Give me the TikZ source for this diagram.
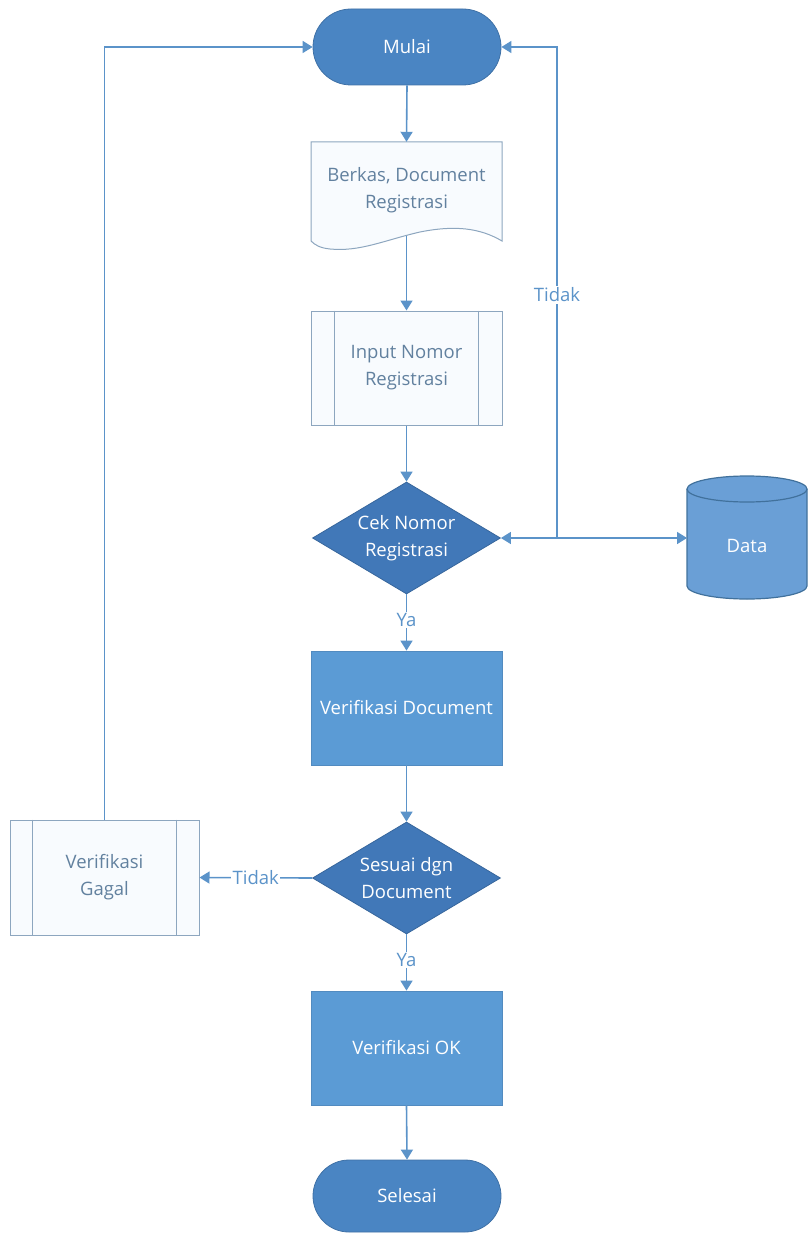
\documentclass[tikz,border=0pt]{standalone}
\usepackage{fontspec}
\setmainfont{Open Sans}
\usetikzlibrary{shapes.geometric,arrows.meta}
\definecolor{term}{HTML}{4A85C3}
\definecolor{dia}{HTML}{4178B8}
\definecolor{proc}{HTML}{5B9BD5}
\definecolor{cyl}{HTML}{6A9FD6}
\definecolor{cylline}{HTML}{41719C}
\definecolor{edge}{HTML}{5B93C9}
\definecolor{pale}{HTML}{8DA6BF}
\definecolor{paletext}{HTML}{62819F}
\definecolor{palefill}{HTML}{F8FBFE}
\begin{document}
\begin{tikzpicture}[x=1pt,y=-1pt,
  font=\fontsize{18.5}{27}\selectfont,
  termbox/.style={rectangle, rounded corners=38pt, fill=term, draw=term!85!black, line width=0.8pt,
    minimum width=188pt, minimum height=76pt, text=white, inner sep=0pt},
  diabox/.style={diamond, fill=dia, draw=dia!85!black, line width=0.8pt, minimum width=188pt,
    minimum height=112pt, inner sep=0pt, text=white, align=center, aspect=1.68},
  procbox/.style={rectangle, fill=proc, draw=proc!90!black, line width=0.8pt, minimum width=191pt,
    minimum height=114pt, text=white, align=center},
  subbox/.style={rectangle, fill=palefill, draw=pale, line width=1pt, minimum width=191pt,
    minimum height=114pt, text=paletext, align=center},
  conn/.style={draw=edge, line width=1.6pt, -{Triangle[width=12pt,length=10pt]}},
  lbl/.style={fill=white, text=edge, inner sep=1.5pt}
]
\useasboundingbox (0,0) rectangle (808,1233);

% Nodes
\node[termbox] (mulai) at (407,47) {Mulai};

% Document shape
\draw[draw=pale, fill=palefill, line width=1pt]
  (311,142) -- (502,142) -- (502,241)
  .. controls (480,228) and (455,225) .. (420,232)
  .. controls (385,240) and (360,252) .. (330,249)
  .. controls (320,248) and (315,245) .. (311,241) -- cycle;
\node[rectangle, minimum width=191pt, minimum height=96pt, text=paletext, align=center] (doc) at (406.5,190)
  {Berkas, Document\\Registrasi};

\node[subbox] (input) at (406.5,368) {Input Nomor\\Registrasi};
\draw[draw=pale, line width=1pt] ([xshift=24pt]input.north west) -- ([xshift=24pt]input.south west);
\draw[draw=pale, line width=1pt] ([xshift=-24pt]input.north east) -- ([xshift=-24pt]input.south east);

\node[diabox] (cek) at (406.5,538) {Cek Nomor\\Registrasi};

% Data cylinder
\draw[fill=cyl, draw=cylline, line width=1.2pt]
  (687,489) -- (687,586) arc[start angle=180, end angle=360, x radius=60pt, y radius=13pt]
  -- (807,489) arc[start angle=0, end angle=180, x radius=60pt, y radius=13pt] -- cycle;
\draw[draw=cylline, line width=1.2pt] (687,489) arc[start angle=180, end angle=360, x radius=60pt, y radius=13pt];
\node[rectangle, minimum width=120pt, minimum height=110pt, text=white, inner sep=0pt] (data) at (747,546) {Data};
\coordinate (dataw) at (687,538);

\node[procbox] (verdoc) at (406.5,708) {Verifikasi Document};

\node[diabox] (sesuai) at (406.5,878) {Sesuai dgn\\Document};

\node[subbox, minimum width=189pt, minimum height=115pt] (gagal) at (104.5,877.5) {Verifikasi\\Gagal};
\draw[draw=pale, line width=1pt] ([xshift=23pt]gagal.north west) -- ([xshift=23pt]gagal.south west);
\draw[draw=pale, line width=1pt] ([xshift=-23pt]gagal.north east) -- ([xshift=-23pt]gagal.south east);

\node[procbox] (ok) at (406.5,1048) {Verifikasi OK};

\node[termbox, minimum height=72pt, rounded corners=36pt] (selesai) at (407,1196) {Selesai};

% Connectors
\draw[conn] (mulai.south) -- (doc.north);
\draw[conn] (406.5,236) -- (input.north);
\draw[conn] (input.south) -- (cek.north);
\draw[conn] (cek.south) -- node[lbl, pos=0.45] {Ya} (verdoc.north);
\draw[conn] (verdoc.south) -- (sesuai.north);
\draw[conn] (sesuai.south) -- node[lbl, pos=0.45] {Ya} (ok.north);
\draw[conn] (ok.south) -- (selesai.north);
\draw[conn] (sesuai.west) -- node[lbl, pos=0.5] {Tidak} (gagal.east);
\draw[conn] (gagal.north) |- (mulai.west);

\coordinate (j) at (557,538);
\draw[conn] (j) -- (cek.east);
\draw[conn] (j) -- (dataw);
\draw[conn] (j) |- (mulai.east);
\node[lbl] (tidak1) at (557,295) {Tidak};
\end{tikzpicture}
\end{document}
